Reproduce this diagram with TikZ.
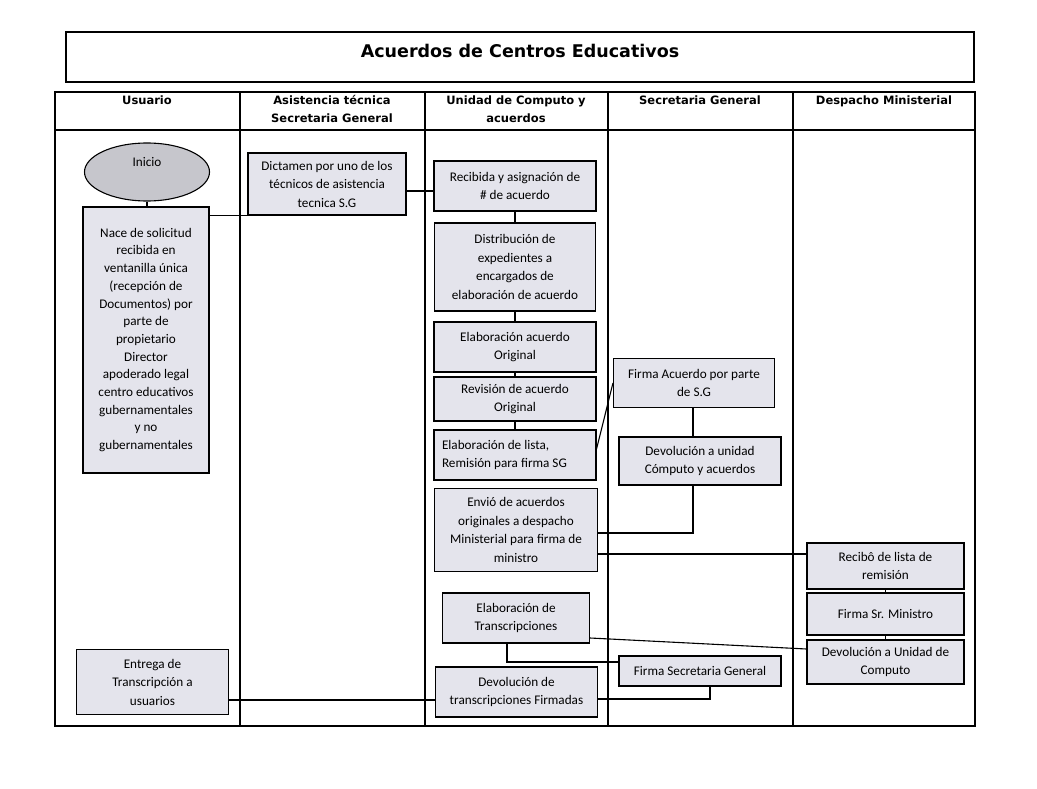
\documentclass[tikz,border=0pt]{standalone}
\usepackage{fontspec}
\setmainfont{Carlito}
\newfontfamily\hdfont{DejaVu Sans}
\usetikzlibrary{shapes.geometric}
\definecolor{boxfill}{RGB}{228,228,236}
\definecolor{ovalfill}{RGB}{198,198,204}
\begin{document}
\begin{tikzpicture}[x=1pt,y=-1pt,
  box/.style={draw=black, line width=1.1pt, fill=boxfill, align=center, inner sep=2pt,
    font=\fontsize{13.2}{18.5}\selectfont},
  oval/.style={ellipse, draw=black, line width=1.1pt, fill=ovalfill},
  lane/.style={draw=black, line width=1.3pt},
  conn/.style={draw=black, line width=1.1pt},
  head/.style={font=\hdfont\bfseries\fontsize{11.5}{18}\selectfont, align=center, anchor=north, inner sep=0pt},
  ttl/.style={font=\hdfont\bfseries\fontsize{17.5}{20}\selectfont, inner sep=0pt},
  ]
\fill[white] (0,0) rectangle (1037,789);
\useasboundingbox (0,0) rectangle (1037,789);

% title
\node[lane, minimum width=908pt, minimum height=50pt, inner sep=0pt] (titlebox) at (520,57) {};
\node[ttl] (titletext) at (520,51) {Acuerdos de Centros Educativos};

% swimlane table
\draw[lane] (55,92) rectangle (975,726);
\draw[lane] (55,130) -- (975,130);
\foreach \xx in {240,425,608,793} { \draw[lane] (\xx,92) -- (\xx,726); }

\node[head] (h1) at (147,96) {Usuario};
\node[head] (h2) at (332,95) {Asistencia técnica\\Secretaria General};
\node[head] (h3) at (516,96) {Unidad de Computo y\\acuerdos};
\node[head] (h4) at (700,96) {Secretaria General};
\node[head] (h5) at (884,96) {Despacho Ministerial};

% Usuario lane
\node[oval, minimum width=125pt, minimum height=58pt,
  label={[font=\fontsize{13.2}{16}\selectfont, yshift=10pt]center:Inicio}] (inicio) at (147,172) {};
\node[box, minimum width=126pt, minimum height=266pt, font=\fontsize{13.2}{17.7}\selectfont] (nace) at (146,340)
  {Nace de solicitud\\recibida en\\ventanilla única\\(recepción de\\Documentos) por\\parte de\\propietario\\Director\\apoderado legal\\centro educativos\\gubernamentales\\y no\\gubernamentales};
\node[box, minimum width=152pt, minimum height=65pt] (entrega) at (152.5,682)
  {Entrega de\\Transcripción a\\usuarios};

% Asistencia lane
\node[box, minimum width=158pt, minimum height=62pt] (dict) at (327,184)
  {Dictamen por uno de los\\técnicos de asistencia\\tecnica S.G};

% Unidad lane
\node[box, minimum width=162pt, minimum height=50pt] (recib) at (515,186)
  {Recibida y asignación de\\\# de acuerdo};
\node[box, minimum width=161pt, minimum height=88pt] (distr) at (515,267)
  {Distribución de\\expedientes a\\encargados de\\elaboración de acuerdo};
\node[box, minimum width=162pt, minimum height=50pt] (elab) at (515,347)
  {Elaboración acuerdo\\Original};
\node[box, minimum width=162pt, minimum height=44pt] (revis) at (515,399)
  {Revisión de acuerdo\\Original};
\node[box, minimum width=162pt, minimum height=50pt, text width=146pt, align=flush left] (lista) at (515,455)
  {Elaboración de lista,\\Remisión para firma SG};
\node[box, minimum width=163pt, minimum height=83pt] (envio) at (516,530)
  {Envió de acuerdos\\originales a despacho\\Ministerial para firma de\\ministro};
\node[box, minimum width=147pt, minimum height=50pt] (trans) at (516,618)
  {Elaboración de\\Transcripciones};
\node[box, minimum width=162pt, minimum height=50pt] (devtr) at (516.5,692)
  {Devolución de\\transcripciones Firmadas};

% Secretaria lane
\node[box, minimum width=161pt, minimum height=49pt] (firmaa) at (694,383)
  {Firma Acuerdo por parte\\de S.G};
\node[box, minimum width=162pt, minimum height=48pt] (devsg) at (700,461)
  {Devolución a unidad\\Cómputo y acuerdos};
\node[box, minimum width=162pt, minimum height=30pt] (firmasg) at (700,671)
  {Firma Secretaria General};

% Despacho lane
\node[box, minimum width=157pt, minimum height=46pt] (recibi) at (885.5,566)
  {Recibô de lista de\\remisión};
\node[box, minimum width=157pt, minimum height=42pt] (firmasr) at (885.5,614)
  {Firma Sr. Ministro};
\node[box, minimum width=157pt, minimum height=44pt] (devdm) at (885.5,662)
  {Devolución a Unidad de\\Computo};

% connectors
\draw[conn] (inicio.south) -- (inicio.south |- nace.north);
\draw[conn] (nace.east |- dict.south) -- (dict.south west);
\draw[conn] (dict.east |- 0,191) -- (recib.west |- 0,191);
\draw[conn] (recib.south) -- (distr.north);
\draw[conn] (distr.south) -- (elab.north);
\draw[conn] (elab.south) -- (revis.north);
\draw[conn] (revis.south) -- (lista.north);
\draw[conn] ([yshift=6pt]lista.east) -- (firmaa.west);
\draw[conn] (firmaa.south -| 693,0) -- (devsg.north -| 693,0);
\draw[conn] (devsg.south -| 693,0) |- (envio.east |- 0,533);
\draw[conn] (envio.east |- 0,554) -- (recibi.west |- 0,554);
\draw[conn] (recibi.south) -- (firmasr.north);
\draw[conn] (firmasr.south) -- (devdm.north);
\draw[conn] (trans.east |- 0,638) -- (devdm.west |- 0,649);
\draw[conn] (trans.south -| 507,0) |- (firmasg.west |- 0,662);
\draw[conn] (firmasg.south -| 710,0) |- (devtr.east |- 0,699);
\draw[conn] (devtr.west |- 0,700) -- (entrega.east |- 0,700);
\end{tikzpicture}
\end{document}
